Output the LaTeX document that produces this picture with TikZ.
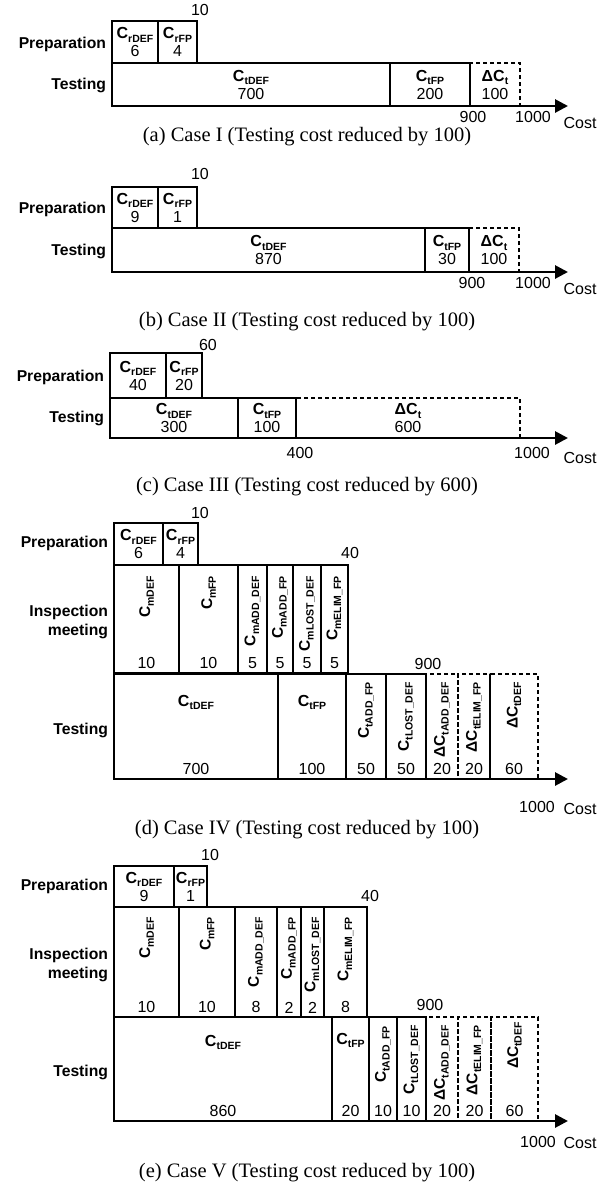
\documentclass[tikz,border=0pt]{standalone}
\usepackage{fontspec}
\setmainfont{Liberation Sans}
\newfontfamily\capfont{Liberation Serif}
\usetikzlibrary{arrows.meta, positioning}

\newcommand{\Csub}[1]{\textbf{C}\raisebox{-0.45ex}{\fontsize{10.5}{11}\selectfont\bfseries #1}}
\newcommand{\dCsub}[1]{\textbf{ΔC}\raisebox{-0.45ex}{\fontsize{10.5}{11}\selectfont\bfseries #1}}

\begin{document}
\begin{tikzpicture}[
    x=1pt, y=-1pt,
    every node/.style={inner sep=0pt, outer sep=0pt},
    box/.style={
        draw,
        line width=2.8pt,
        anchor=north west,
        align=center,
        font=\fontsize{16}{18}\selectfont
    },
    gap/.style={box, line width=2.1pt, dash pattern=on 4.5pt off 2.5pt},
    span/.style 2 args={minimum width=#1pt, minimum height=#2pt},
    phase/.style={anchor=east, align=right, font=\fontsize{15.7}{19}\selectfont\bfseries},
    num/.style={font=\fontsize{16}{18}\selectfont},
    side/.style={rotate=90, anchor=east, font=\fontsize{15.5}{18}\selectfont},
    caption/.style={font=\capfont\fontsize{20.5}{24}\selectfont},
    axis/.style={line width=2.8pt, -{Triangle[length=13pt, width=13pt]}}
]
\useasboundingbox (0,0) rectangle (615,1186);

% (a) Case I
\node[phase] (aPrep) at (106,44) {Preparation};
\node[phase] (aTest) at (106,85) {Testing};
\node[box, span={46}{42}] (aRdef) at (112,21) {\Csub{rDEF}\\6};
\node[box, span={39}{42}] (aRfp) at (158,21) {\Csub{rFP}\\4};
\node[box, span={278}{43}] (aTdef) at (112,63) {\Csub{tDEF}\\700};
\node[box, span={80}{43}] (aTfp) at (390,63) {\Csub{tFP}\\200};
\node[gap, span={50}{43}] (aDt) at (470,63) {\dCsub{t}\\100};
\coordinate (aEnd) at (568,106);
\draw[axis] (aTdef.south west) -- (aEnd);
\node[num] (a10) at (200,10) {10};
\node[num] (a900) at (473,117) {900};
\node[num] (a1000) at (533,117) {1000};
\node[num] (aCost) at (580,123) {Cost};
\node[caption] (aCap) at (307,137) {(a) Case I (Testing cost reduced by 100)};

% (b) Case II
\node[phase] (bPrep) at (106,209) {Preparation};
\node[phase] (bTest) at (106,251) {Testing};
\node[box, span={46}{41}] (bRdef) at (112,187) {\Csub{rDEF}\\9};
\node[box, span={39}{41}] (bRfp) at (158,187) {\Csub{rFP}\\1};
\node[box, span={313}{44}] (bTdef) at (112,228) {\Csub{tDEF}\\870};
\node[box, span={44}{44}] (bTfp) at (425,228) {\Csub{tFP}\\30};
\node[gap, span={50}{44}] (bDt) at (469,228) {\dCsub{t}\\100};
\coordinate (bEnd) at (568,272);
\draw[axis] (bTdef.south west) -- (bEnd);
\node[num] (b10) at (200,174) {10};
\node[num] (b900) at (472,283) {900};
\node[num] (b1000) at (533,283) {1000};
\node[num] (bCost) at (580,289) {Cost};
\node[caption] (bCap) at (307,322) {(b) Case II (Testing cost reduced by 100)};

% (c) Case III
\node[phase] (cPrep) at (104,377) {Preparation};
\node[phase] (cTest) at (104,418) {Testing};
\node[box, span={56}{45}] (cRdef) at (110,353) {\Csub{rDEF}\\40};
\node[box, span={36}{45}] (cRfp) at (166,353) {\Csub{rFP}\\20};
\node[box, span={128}{40}] (cTdef) at (110,398) {\Csub{tDEF}\\300};
\node[box, span={58}{40}] (cTfp) at (238,398) {\Csub{tFP}\\100};
\node[gap, span={224}{40}] (cDt) at (296,398) {\dCsub{t}\\600};
\coordinate (cEnd) at (568,438);
\draw[axis] (cTdef.south west) -- (cEnd);
\node[num] (c60) at (208,345) {60};
\node[num] (c400) at (300,453) {400};
\node[num] (c1000) at (532,453) {1000};
\node[num] (cCost) at (580,458) {Cost};
\node[caption] (cCap) at (307,487) {(c) Case III (Testing cost reduced by 600)};

% (d) Case IV
\node[phase] (dPrep) at (108,543) {Preparation};
\node[phase] (dInsp) at (108,622) {Inspection\\meeting};
\node[phase] (dTest) at (108,730) {Testing};
\node[box, span={49}{42}] (dRdef) at (114,523) {\Csub{rDEF}\\6};
\node[box, span={35}{42}] (dRfp) at (163,523) {\Csub{rFP}\\4};
% inspection meeting
\node[box, span={65}{108}] (dMdef) at (114,565) {};
\node[box, span={59}{108}] (dMfp) at (179,565) {};
\node[box, span={29}{108}] (dMadddef) at (238,565) {};
\node[box, span={26}{108}] (dMaddfp) at (267,565) {};
\node[box, span={28}{108}] (dMlostdef) at (293,565) {};
\node[box, span={27}{108}] (dMelimfp) at (321,565) {};
\node[side] (dMdefL) at ([yshift=-11pt]dMdef.north) {\Csub{mDEF}};
\node[side] (dMfpL) at ([yshift=-11pt]dMfp.north) {\Csub{mFP}};
\node[side] (dMadddefL) at ([yshift=-11pt]dMadddef.north) {\Csub{mADD\_DEF}};
\node[side] (dMaddfpL) at ([yshift=-11pt]dMaddfp.north) {\Csub{mADD\_FP}};
\node[side] (dMlostdefL) at ([yshift=-11pt]dMlostdef.north) {\Csub{mLOST\_DEF}};
\node[side] (dMelimfpL) at ([yshift=-11pt]dMelimfp.north) {\Csub{mELIM\_FP}};
\node[num, above=4pt of dMdef.south] (dMdefV) {10};
\node[num, above=4pt of dMfp.south] (dMfpV) {10};
\node[num, above=4pt of dMadddef.south] (dMadddefV) {5};
\node[num, above=4pt of dMaddfp.south] (dMaddfpV) {5};
\node[num, above=4pt of dMlostdef.south] (dMlostdefV) {5};
\node[num, above=4pt of dMelimfp.south] (dMelimfpV) {5};
% testing
\node[box, span={164}{105}] (dTdef) at (114,674) {};
\node[box, span={68}{105}] (dTfp) at (278,674) {};
\node[box, span={40}{105}] (dTaddfp) at (346,674) {};
\node[box, span={40}{105}] (dTlostdef) at (386,674) {};
\node[gap, span={32}{105}] (dDadddef) at (426,674) {};
\node[gap, span={32}{105}] (dDelimfp) at (458,674) {};
\node[gap, span={48}{105}] (dDtdef) at (490,674) {};
\node[num, below=21pt of dTdef.north] (dTdefL) {\Csub{tDEF}};
\node[num, below=21pt of dTfp.north] (dTfpL) {\Csub{tFP}};
\node[side] (dTaddfpL) at ([yshift=-8pt]dTaddfp.north) {\Csub{tADD\_FP}};
\node[side] (dTlostdefL) at ([yshift=-8pt]dTlostdef.north) {\Csub{tLOST\_DEF}};
\node[side] (dDadddefL) at ([yshift=-8pt]dDadddef.north) {\dCsub{tADD\_DEF}};
\node[side] (dDelimfpL) at ([yshift=-8pt]dDelimfp.north) {\dCsub{tELIM\_FP}};
\node[side] (dDtdefL) at ([yshift=-8pt]dDtdef.north) {\dCsub{tDEF}};
\node[num, above=4pt of dTdef.south] (dTdefV) {700};
\node[num, above=4pt of dTfp.south] (dTfpV) {100};
\node[num, above=4pt of dTaddfp.south] (dTaddfpV) {50};
\node[num, above=4pt of dTlostdef.south] (dTlostdefV) {50};
\node[num, above=4pt of dDadddef.south] (dDadddefV) {20};
\node[num, above=4pt of dDelimfp.south] (dDelimfpV) {20};
\node[num, above=4pt of dDtdef.south] (dDtdefV) {60};
\coordinate (dEnd) at (568,779);
\draw[axis] (dTdef.south west) -- (dEnd);
\node[num] (d10) at (200,513) {10};
\node[num] (d40) at (350,553) {40};
\node[num] (d900) at (428,664) {900};
\node[num] (d1000) at (537,807) {1000};
\node[num] (dCost) at (580,809) {Cost};
\node[caption] (dCap) at (307,830) {(d) Case IV (Testing cost reduced by 100)};

% (e) Case V
\node[phase] (ePrep) at (108,886) {Preparation};
\node[phase] (eInsp) at (108,965) {Inspection\\meeting};
\node[phase] (eTest) at (108,1072) {Testing};
\node[box, span={60}{41}] (eRdef) at (114,866) {\Csub{rDEF}\\9};
\node[box, span={33}{41}] (eRfp) at (174,866) {\Csub{rFP}\\1};
% inspection meeting
\node[box, span={65}{110}] (eMdef) at (114,907) {};
\node[box, span={56}{110}] (eMfp) at (179,907) {};
\node[box, span={42}{110}] (eMadddef) at (235,907) {};
\node[box, span={24}{110}] (eMaddfp) at (277,907) {};
\node[box, span={23}{110}] (eMlostdef) at (301,907) {};
\node[box, span={43}{110}] (eMelimfp) at (324,907) {};
\node[side] (eMdefL) at ([yshift=-10pt]eMdef.north) {\Csub{mDEF}};
\node[side] (eMfpL) at ([yshift=-10pt]eMfp.north) {\Csub{mFP}};
\node[side] (eMadddefL) at ([yshift=-10pt]eMadddef.north) {\Csub{mADD\_DEF}};
\node[side] (eMaddfpL) at ([yshift=-10pt]eMaddfp.north) {\Csub{mADD\_FP}};
\node[side] (eMlostdefL) at ([yshift=-10pt]eMlostdef.north) {\Csub{mLOST\_DEF}};
\node[side] (eMelimfpL) at ([yshift=-10pt]eMelimfp.north) {\Csub{mELIM\_FP}};
\node[num, above=4pt of eMdef.south] (eMdefV) {10};
\node[num, above=4pt of eMfp.south] (eMfpV) {10};
\node[num, above=4pt of eMadddef.south] (eMadddefV) {8};
\node[num, above=4pt of eMaddfp.south] (eMaddfpV) {2};
\node[num, above=4pt of eMlostdef.south] (eMlostdefV) {2};
\node[num, above=4pt of eMelimfp.south] (eMelimfpV) {8};
% testing
\node[box, span={218}{104}] (eTdef) at (114,1017) {};
\node[box, span={37}{104}] (eTfp) at (332,1017) {};
\node[box, span={28}{104}] (eTaddfp) at (369,1017) {};
\node[box, span={29}{104}] (eTlostdef) at (397,1017) {};
\node[gap, span={32}{104}] (eDadddef) at (426,1017) {};
\node[gap, span={33}{104}] (eDelimfp) at (458,1017) {};
\node[gap, span={47}{104}] (eDtdef) at (491,1017) {};
\node[num, below=18pt of eTdef.north] (eTdefL) {\Csub{tDEF}};
\node[num, below=16pt of eTfp.north] (eTfpL) {\Csub{tFP}};
\node[side] (eTaddfpL) at ([yshift=-9pt]eTaddfp.north) {\Csub{tADD\_FP}};
\node[side] (eTlostdefL) at ([yshift=-8pt]eTlostdef.north) {\Csub{tLOST\_DEF}};
\node[side] (eDadddefL) at ([yshift=-8pt]eDadddef.north) {\dCsub{tADD\_DEF}};
\node[side] (eDelimfpL) at ([yshift=-8pt]eDelimfp.north) {\dCsub{tELIM\_FP}};
\node[side] (eDtdefL) at ([yshift=-5pt]eDtdef.north) {\dCsub{tDEF}};
\node[num, above=4pt of eTdef.south] (eTdefV) {860};
\node[num, above=4pt of eTfp.south] (eTfpV) {20};
\node[num, above=4pt of eTaddfp.south] (eTaddfpV) {10};
\node[num, above=4pt of eTlostdef.south] (eTlostdefV) {10};
\node[num, above=4pt of eDadddef.south] (eDadddefV) {20};
\node[num, above=4pt of eDelimfp.south] (eDelimfpV) {20};
\node[num, above=4pt of eDtdef.south] (eDtdefV) {60};
\coordinate (eEnd) at (568,1121);
\draw[axis] (eTdef.south west) -- (eEnd);
\node[num] (e10) at (210,855) {10};
\node[num] (e40) at (370,896) {40};
\node[num] (e900) at (430,1005) {900};
\node[num] (e1000) at (538,1142) {1000};
\node[num] (eCost) at (580,1143) {Cost};
\node[caption] (eCap) at (307,1173) {(e) Case V (Testing cost reduced by 100)};

\end{tikzpicture}
\end{document}
